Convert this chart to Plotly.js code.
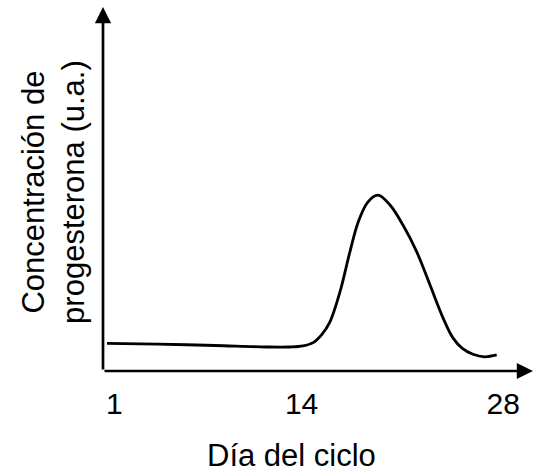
<!DOCTYPE html>
<html>
<head>
<meta charset="utf-8">
<script src="https://cdn.plot.ly/plotly-3.0.1.min.js"></script>
<style>html,body{margin:0;padding:0;background:#fff}#chart{width:537px;height:474px}</style>
</head>
<body>
<div id="chart"></div>
<script>
// Day of cycle (x) and progesterone concentration (a.u., 0-10 scale)
var days = [0.49, 4.0, 8.0, 11.5, 13.2, 14.1, 14.8, 15.4, 15.97, 16.67, 17.36, 17.94, 18.6, 19.3, 20.14, 21.04, 21.99, 22.92, 23.82, 24.51, 25.14, 25.9, 26.7, 27.55];
var progesterone = [0.76, 0.74, 0.70, 0.66, 0.66, 0.69, 0.78, 1.0, 1.35, 2.18, 3.28, 4.10, 4.64, 4.83, 4.56, 4.01, 3.28, 2.36, 1.46, 0.91, 0.63, 0.46, 0.39, 0.44];
var tickDays = [1, 14, 28];
var tickLabels = ['1', '14', '28'];
var xTitle = 'Día del ciclo';
var yTitle = 'Concentración de<br>progesterona (u.a.)';

var font = 'Liberation Sans, Arial, sans-serif';
var trace = {
  x: days, y: progesterone, type: 'scatter', mode: 'lines',
  line: {color: '#000', width: 2.8, shape: 'spline', smoothing: 1},
  hoverinfo: 'skip'
};
var layout = {
  width: 537, height: 474,
  margin: {l: 103, r: 4, t: 7, b: 103},
  paper_bgcolor: '#fff', plot_bgcolor: '#fff',
  showlegend: false,
  xaxis: {
    range: [0.21, 30.07], showgrid: false, zeroline: false, showline: false,
    tickmode: 'array', tickvals: tickDays, ticktext: tickLabels,
    ticks: '', ticklabelstandoff: 12,
    tickfont: {family: font, size: 30, color: '#000'}, fixedrange: true
  },
  yaxis: {
    range: [0, 10], showgrid: false, zeroline: false, showline: false,
    showticklabels: false, ticks: '', fixedrange: true
  },
  annotations: [
    {xref: 'paper', yref: 'paper', x: 1, y: 0, ax: -430, ay: 0, axref: 'pixel', ayref: 'pixel',
     text: '', showarrow: true, arrowhead: 2, arrowsize: 1.2, arrowwidth: 2.7, arrowcolor: '#000', standoff: 0, startstandoff: 0},
    {xref: 'paper', yref: 'paper', x: 0, y: 1, ax: 0, ay: 364, axref: 'pixel', ayref: 'pixel',
     text: '', showarrow: true, arrowhead: 2, arrowsize: 1.2, arrowwidth: 2.7, arrowcolor: '#000', standoff: 0, startstandoff: 0},
    {xref: 'paper', yref: 'paper', x: 0.4395, y: -0.2335, xanchor: 'center', yanchor: 'middle',
     text: xTitle, showarrow: false, font: {family: font, size: 31, color: '#000'}},
    {xref: 'paper', yref: 'paper', x: -0.114, y: 0.492, xanchor: 'center', yanchor: 'middle',
     text: yTitle, textangle: -90, showarrow: false, font: {family: font, size: 31, color: '#000'}}
  ]
};
Plotly.newPlot('chart', [trace], layout, {displayModeBar: false, staticPlot: true});
</script>
</body>
</html>
